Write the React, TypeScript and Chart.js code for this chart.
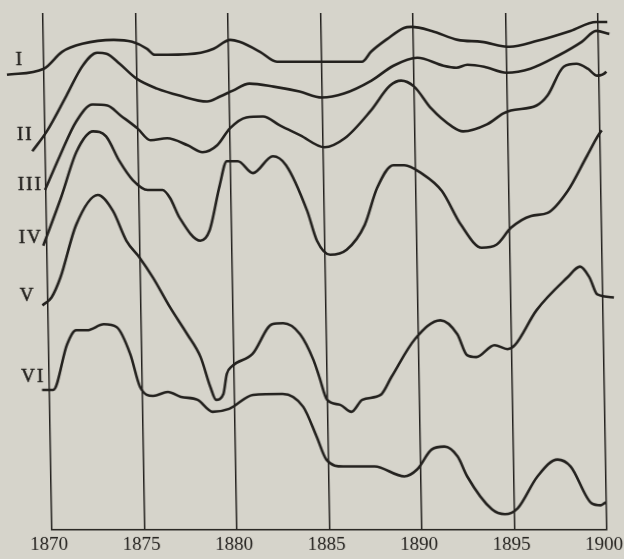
import React, { useEffect, useRef } from "react";
import { Chart, registerables } from "chart.js";

Chart.register(...registerables);

// Years (x) and index values (y, arbitrary units above the base line)
const I_YEARS = [1868.0, 1870.0, 1871.0, 1872.1, 1873.8, 1874.8, 1875.6, 1876.0, 1876.7, 1878.5, 1879.2, 1880.1, 1880.6, 1881.7, 1882.6, 1884.9, 1887.2, 1887.7, 1888.6, 1889.5, 1889.9, 1891.0, 1892.4, 1893.7, 1895.2, 1896.7, 1898.5, 1899.9, 1900.5, 1901.1];
const I_VALUES = [45.8, 46.4, 48.1, 48.9, 49.3, 49.1, 48.4, 47.8, 47.8, 48.0, 48.4, 49.3, 49.1, 48.1, 47.1, 47.1, 47.1, 48.1, 49.4, 50.5, 50.6, 50.2, 49.3, 49.1, 48.6, 49.2, 50.2, 51.1, 51.1, 50.7];

const II_YEARS = [1869.3, 1870.1, 1871.2, 1872.1, 1872.9, 1873.4, 1874.1, 1875.0, 1876.1, 1877.3, 1878.8, 1879.5, 1880.2, 1881.1, 1882.4, 1883.8, 1885.0, 1886.2, 1887.7, 1888.9, 1890.2, 1891.6, 1892.3, 1892.9, 1893.8, 1895.0, 1896.3, 1897.8, 1899.1, 1899.9, 1900.6, 1901.1];
const II_VALUES = [38.1, 40.1, 43.7, 46.7, 48.0, 47.9, 46.9, 45.4, 44.4, 43.7, 43.1, 43.6, 44.2, 44.9, 44.6, 44.1, 43.5, 43.9, 45.2, 46.7, 47.5, 46.7, 46.5, 46.8, 46.6, 46.0, 46.4, 47.7, 49.1, 50.2, 49.9, 49.7];

const III_YEARS = [1869.95, 1870.8, 1871.7, 1872.6, 1873.4, 1874.1, 1875.0, 1875.7, 1876.6, 1877.7, 1878.5, 1879.3, 1880.0, 1880.9, 1881.8, 1882.7, 1883.8, 1885.1, 1886.2, 1887.6, 1888.7, 1889.3, 1890.0, 1890.9, 1892.0, 1892.6, 1893.9, 1894.8, 1895.2, 1896.6, 1897.2, 1898.1, 1898.8, 1899.4, 1899.9, 1900.4, 1900.8, 1901.0];
const III_VALUES = [34.2, 37.7, 41.1, 42.8, 42.7, 41.7, 40.4, 39.2, 39.4, 38.7, 38.0, 38.7, 40.4, 41.5, 41.6, 40.7, 39.7, 38.5, 39.4, 42.1, 44.7, 45.2, 44.6, 42.4, 40.6, 40.1, 40.8, 41.9, 42.2, 42.7, 43.7, 46.6, 46.9, 46.4, 45.7, 46.1, 47.6, 48.0];

const IV_YEARS = [1869.8, 1870.8, 1871.7, 1872.6, 1873.3, 1874.0, 1874.7, 1875.5, 1876.3, 1876.7, 1877.2, 1878.3, 1878.8, 1879.4, 1879.8, 1880.4, 1881.2, 1882.3, 1883.0, 1884.1, 1884.6, 1885.3, 1886.2, 1887.2, 1887.9, 1888.8, 1889.4, 1890.3, 1891.4, 1892.4, 1893.5, 1894.3, 1895.1, 1896.2, 1897.1, 1898.2, 1899.3, 1900.1, 1900.5, 1900.9];
const IV_VALUES = [28.6, 33.4, 38.1, 40.1, 39.6, 37.1, 35.2, 34.2, 34.2, 33.4, 31.4, 29.1, 30.1, 34.7, 37.1, 37.1, 35.9, 37.6, 36.7, 32.1, 29.1, 27.7, 28.2, 30.7, 34.4, 36.7, 36.7, 35.9, 34.1, 30.7, 28.4, 28.7, 30.4, 31.6, 31.9, 34.1, 37.7, 40.2, 40.6, 40.6];

const V_YEARS = [1869.7, 1870.2, 1870.7, 1871.6, 1872.8, 1873.6, 1874.3, 1875.0, 1875.7, 1876.6, 1877.5, 1878.2, 1878.7, 1879.0, 1879.4, 1879.6, 1879.9, 1881.0, 1882.1, 1882.7, 1883.6, 1884.3, 1884.6, 1885.0, 1885.7, 1886.3, 1886.9, 1887.9, 1888.5, 1889.8, 1891.2, 1892.1, 1892.6, 1893.1, 1894.1, 1894.8, 1895.2, 1896.4, 1898.1, 1898.8, 1899.3, 1899.7, 1900.6];
const V_VALUES = [22.6, 23.4, 25.4, 30.7, 33.7, 32.1, 29.1, 27.4, 25.4, 22.4, 19.7, 17.4, 14.4, 13.1, 13.7, 15.7, 16.5, 17.7, 20.7, 20.8, 19.7, 17.1, 15.4, 13.1, 12.6, 11.9, 13.1, 13.6, 15.4, 19.2, 21.1, 19.7, 17.6, 17.4, 18.6, 18.2, 18.6, 22.1, 25.4, 26.5, 25.4, 23.7, 23.4];

const VI_YEARS = [1869.6, 1870.2, 1871.0, 1871.5, 1872.1, 1873.0, 1873.7, 1874.4, 1874.9, 1875.6, 1876.4, 1877.1, 1878.0, 1878.8, 1879.7, 1881.0, 1882.6, 1883.7, 1884.4, 1884.9, 1885.8, 1887.5, 1889.1, 1889.8, 1890.6, 1891.3, 1892.0, 1892.5, 1893.8, 1894.5, 1895.2, 1896.3, 1897.4, 1898.1, 1899.2, 1899.7, 1900.0, 1900.6];
const VI_VALUES = [14.1, 14.1, 18.7, 20.1, 20.1, 20.7, 20.4, 17.7, 14.4, 13.5, 13.9, 13.4, 13.1, 11.9, 12.2, 13.6, 13.7, 12.4, 9.4, 7.1, 6.4, 6.4, 5.4, 6.1, 8.1, 8.4, 7.4, 5.4, 2.1, 1.6, 2.2, 5.4, 7.1, 6.4, 2.7, 2.5, 2.8, 2.6];

const SERIES_NAMES = ["I", "II", "III", "IV", "V", "VI"];
const SERIES_YEARS = [I_YEARS, II_YEARS, III_YEARS, IV_YEARS, V_YEARS, VI_YEARS];
const SERIES_VALUES = [I_VALUES, II_VALUES, III_VALUES, IV_VALUES, V_VALUES, VI_VALUES];
// value at which each roman-numeral label sits, left of the first grid line
const LABEL_VALUES = [47.3, 39.7, 34.7, 29.4, 23.5, 15.4];

const X_MIN = 1870;
const X_MAX = 1900;
const X_STEP = 5;

const INK = "#23211e";
const PAPER = "#d6d4cb";
const SERIF = '"Liberation Serif", "DejaVu Serif", serif';

const labelPlugin = {
  id: "romanLabels",
  afterDatasetsDraw(chart: any) {
    const { ctx, chartArea, scales } = chart;
    ctx.save();
    ctx.font = `19px ${SERIF}`;
    (ctx as any).letterSpacing = "2px";
    ctx.fillStyle = INK;
    ctx.strokeStyle = INK;
    ctx.lineWidth = 0.5;
    ctx.textAlign = "left";
    ctx.textBaseline = "middle";
    SERIES_NAMES.forEach((name, i) => {
      const y = scales.y.getPixelForValue(LABEL_VALUES[i]);
      ctx.fillText(name, chartArea.left - 28, y);
      ctx.strokeText(name, chartArea.left - 28, y);
    });
    ctx.restore();
  },
};

export default function App() {
  const ref = useRef<HTMLCanvasElement | null>(null);

  useEffect(() => {
    if (!ref.current) return;
    const chart = new Chart(ref.current, {
      type: "line",
      data: {
        datasets: SERIES_NAMES.map((name, i) => ({
          label: name,
          data: SERIES_YEARS[i].map((x, j) => ({ x, y: SERIES_VALUES[i][j] })),
          borderColor: INK,
          borderWidth: 2.6,
          pointRadius: 0,
          cubicInterpolationMode: "monotone" as const,
          fill: false,
          clip: false as any,
        })),
      },
      options: {
        animation: false,
        responsive: false,
        devicePixelRatio: 1,
        layout: { padding: { left: 43, right: 26, top: 13, bottom: 0 } },
        plugins: { legend: { display: false }, tooltip: { enabled: false } },
        scales: {
          x: {
            type: "linear",
            min: X_MIN,
            max: X_MAX,
            ticks: {
              stepSize: X_STEP,
              padding: 3,
              labelOffset: -3,
              color: INK,
              font: { family: SERIF, size: 19 },
              callback: (v: any) => String(v),
              maxRotation: 0,
            },
            grid: { color: INK, lineWidth: 1.5, drawTicks: false },
            border: { display: true, color: INK, width: 1.5 },
          },
          y: { display: false, min: 0, max: 52.0 },
        },
      },
      plugins: [labelPlugin],
    });
    return () => chart.destroy();
  }, []);

  return (
    <div
      style={{
        position: "fixed",
        left: 0,
        top: 0,
        width: 624,
        height: 559,
        background: PAPER,
        overflow: "hidden",
      }}
    >
      <canvas
        ref={ref}
        width={624}
        height={559}
        style={{
          display: "block",
          width: 624,
          height: 559,
          transform: "skewX(1deg)",
          transformOrigin: "0px 20px",
        }}
      />
    </div>
  );
}
